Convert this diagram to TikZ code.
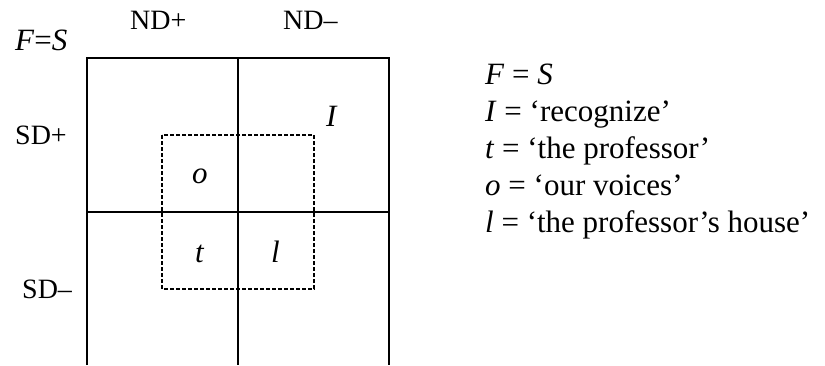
\documentclass[tikz,border=0pt]{standalone}
\usepackage{fontspec}
\setmainfont{Liberation Serif}
\begin{document}
\begin{tikzpicture}[x=1pt,y=-1pt,
  gridline/.style={line width=2pt},
  dashline/.style={line width=1.3pt,dash pattern=on 4pt off 2pt},
  lbl/.style={inner sep=0pt,anchor=base west,font=\fontsize{28}{32}\selectfont},
  big/.style={inner sep=0pt,anchor=base west,font=\fontsize{31}{36}\selectfont},
]
\useasboundingbox (0,0) rectangle (825,365);
% grid coordinates
\coordinate (tl) at (87,58);
\coordinate (tm) at (238,58);
\coordinate (tr) at (389,58);
\coordinate (bl) at (87,365);
\coordinate (bm) at (238,365);
\coordinate (br) at (389,365);
\coordinate (ml) at (87,212);
\coordinate (mr) at (389,212);
\draw[gridline] (bl) -- (tl) -- (tr) -- (br);
\draw[gridline] (tm) -- (bm);
\draw[gridline] (ml) -- (mr);
% dashed box
\coordinate (d1) at (162,135);
\coordinate (d2) at (314,289);
\draw[dashline] (d1) rectangle (d2);
% labels
\node[big] (fs) at (15,50) {\textit{F}=\textit{S}};
\node[lbl] (ndp) at (130,29) {ND+};
\node[lbl] (ndm) at (283,29) {ND–};
\node[lbl] (sdp) at (15,144) {SD+};
\node[lbl] (sdm) at (22,298) {SD–};
\node[big] (cI) at (326,126) {\textit{I}};
\node[big] (co) at (192,183) {\textit{o}};
\node[big] (ct) at (195,262) {\textit{t}};
\node[big] (cl) at (271,262) {\textit{l}};
% legend
\node[big] (l1) at (485,84) {\textit{F} = \textit{S}};
\node[big] (l2) at (485,121) {\textit{I} = ‘recognize’};
\node[big] (l3) at (485,158) {\textit{t} = ‘the professor’};
\node[big] (l4) at (485,195) {\textit{o} = ‘our voices’};
\node[big] (l5) at (485,232) {\textit{l} = ‘the professor’s house’};
\end{tikzpicture}
\end{document}
